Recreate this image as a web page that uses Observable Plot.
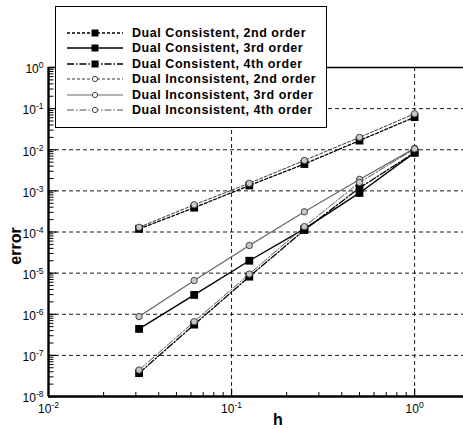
<!DOCTYPE html>
<html><head><meta charset="utf-8">
<script src="https://cdn.jsdelivr.net/npm/d3@7"></script>
<script src="https://cdn.jsdelivr.net/npm/@observablehq/plot@0.6"></script>
<style>
body{margin:0;background:#fff;font-family:"Liberation Sans",Arial,sans-serif;}
#wrap{position:relative;width:463px;height:429px;overflow:hidden;}
#legend{position:absolute;left:55px;top:6px;width:270px;height:120px;border:1.5px solid #000;background:#fff;box-sizing:content-box;}
.row{position:absolute;left:0;height:14px;display:flex;align-items:center;white-space:nowrap;}
.row svg{margin-left:11px;}
.row span{margin-left:9px;font-weight:bold;font-size:12.5px;letter-spacing:0.55px;color:#000;}
</style></head>
<body><div id="wrap"><div id="legend"></div></div>
<script>
const h = [1/32, 1/16, 1/8, 1/4, 1/2, 1];
const dc2 = [1.19e-4, 3.9e-4, 1.35e-3, 4.5e-3, 1.67e-2, 6.2e-2];
const dc3 = [4.4e-7, 2.95e-6, 2.0e-5, 1.19e-4, 8.9e-4, 8.5e-3];
const dc4 = [3.7e-8, 5.6e-7, 8.2e-6, 1.12e-4, 1.18e-3, 8.5e-3];
const di2 = [1.3e-4, 4.6e-4, 1.53e-3, 5.5e-3, 2.0e-2, 7.5e-2];
const di3 = [8.8e-7, 6.6e-6, 4.7e-5, 3.1e-4, 1.9e-3, 1.08e-2];
const di4 = [4.4e-8, 6.6e-7, 9.5e-6, 1.35e-4, 1.6e-3, 1.05e-2];
const names = ["Dual Consistent, 2nd order","Dual Consistent, 3rd order","Dual Consistent, 4th order",
               "Dual Inconsistent, 2nd order","Dual Inconsistent, 3rd order","Dual Inconsistent, 4th order"];
const yDecades = [1e-8,1e-7,1e-6,1e-5,1e-4,1e-3,1e-2,1e-1,1e0];
const xDecades = [1e-2,1e-1,1e0];

const styles = [
  {stroke:"#000", dash:"3,2", w:1.3, marker:"square"},
  {stroke:"#000", dash:null, w:1.4, marker:"square"},
  {stroke:"#000", dash:"7,2,1.5,2", w:1.3, marker:"square"},
  {stroke:"#333", dash:"3,2", w:1, marker:"circle"},
  {stroke:"#666", dash:null, w:1.2, marker:"circle"},
  {stroke:"#555", dash:"7,2,1.5,2", w:1, marker:"circle"}
];
const seriesVals = [dc2, dc3, dc4, di2, di3, di4];
const series = seriesVals.map((vals, i) => vals.map((v, j) => ({h: h[j], e: v, s: names[i]})));

const yMinor = [];
for (let e = -8; e < 0; e++) for (let k = 2; k <= 9; k++) yMinor.push(k * Math.pow(10, e));
const xMinor = [];
for (let e = -2; e < 1; e++) for (let k = 2; k <= 9; k++) { const v = k * Math.pow(10, e); if (v < 1.85) xMinor.push(v); }

const hLine = L => ({draw(ctx){ ctx.moveTo(0,0); ctx.lineTo(L,0); }});
const vLine = L => ({draw(ctx){ ctx.moveTo(0,0); ctx.lineTo(0,-L); }});

const marks = [
  Plot.ruleY(yDecades.slice(0,8), {stroke:"#000", strokeWidth:0.9, strokeDasharray:"4,3"}),
  Plot.ruleX([1e-1, 1e0], {stroke:"#000", strokeWidth:0.9, strokeDasharray:"4,3"}),
  Plot.ruleY([1e0], {stroke:"#000", strokeWidth:1.6}),
  Plot.ruleX([1e-2], {stroke:"#000", strokeWidth:2.4}),
  Plot.ruleY([1e-8], {stroke:"#000", strokeWidth:2.4}),
  Plot.dot(yMinor, {x: () => 1e-2, y: d => d, symbol: hLine(5), stroke:"#000", strokeWidth:1}),
  Plot.dot(yDecades, {x: () => 1e-2, y: d => d, symbol: hLine(8), stroke:"#000", strokeWidth:1.2}),
  Plot.dot(xMinor, {x: d => d, y: () => 1e-8, symbol: vLine(4.5), stroke:"#000", strokeWidth:1}),
  Plot.dot(xDecades, {x: d => d, y: () => 1e-8, symbol: vLine(8), stroke:"#000", strokeWidth:1.2}),
];
series.forEach((data, i) => {
  const st = styles[i];
  marks.push(Plot.line(data, {x:"h", y:"e", stroke: st.stroke, strokeWidth: st.w, strokeDasharray: st.dash || undefined}));
});
series.forEach((data, i) => {
  const st = styles[i];
  if (st.marker === "square")
    marks.push(Plot.dot(data, {x:"h", y:"e", symbol:"square", r:4.4, fill:"#000", stroke:"none"}));
  else
    marks.push(Plot.dot(data, {x:"h", y:"e", symbol:"circle", r:3.2, fill:"#c8c8c8", stroke:"#333", strokeWidth:0.9}));
});
marks.push(
  Plot.axisY(yDecades, {tickSize:0, tickPadding:5, fontSize:12, fill:"#000", tickFormat: d => "10^" + Math.round(Math.log10(d)), label:null}),
  Plot.axisX(xDecades, {tickSize:0, tickPadding:8, fontSize:12, fill:"#000", tickFormat: d => "10^" + Math.round(Math.log10(d)), label:null})
);

const chart = Plot.plot({
  width: 463, height: 429,
  marginLeft: 48, marginTop: 67, marginBottom: 33, marginRight: 0,
  x: {type:"log", domain:[0.01, 1.85]},
  y: {type:"log", domain:[1e-8, 1]},
  style: {fontFamily:"Liberation Sans, Arial, sans-serif", color:"#000", background:"#fff", overflow:"visible"},
  marks
});

// superscript exponents on tick labels
d3.select(chart).selectAll('g[aria-label="y-axis tick label"] text, g[aria-label="x-axis tick label"] text').each(function(){
  const t = d3.select(this);
  const s = t.text();
  const [base, exp] = s.split("^");
  t.text(null);
  t.append("tspan").text(base);
  t.append("tspan").attr("font-size", 8.5).attr("dy", "-0.6em").text(exp);
});
d3.select(chart).selectAll('g[aria-label="y-axis tick label"] text').attr("transform", function(){
  return (this.getAttribute("transform") || "") + " translate(0,2)";
});

// axis titles
const svg = d3.select(chart);
svg.append("text").attr("x", 278).attr("y", 425).attr("text-anchor","middle")
  .attr("font-weight","bold").attr("font-size",16).attr("fill","#000").text("h");
svg.append("text").attr("transform","translate(21,246) rotate(-90)").attr("text-anchor","middle")
  .attr("font-weight","bold").attr("font-size",16).attr("fill","#000").text("error");

const wrap = document.getElementById("wrap");
wrap.insertBefore(chart, wrap.firstChild);

// legend
const legend = document.getElementById("legend");
const rowY = [25.5, 41, 56.5, 72, 87.5, 103];
names.forEach((n, i) => {
  const st = styles[i];
  const row = document.createElement("div");
  row.className = "row";
  row.style.top = (rowY[i] - 7) + "px";
  const s = d3.create("svg").attr("width", 56).attr("height", 14);
  s.append("line").attr("x1",0).attr("x2",56).attr("y1",7).attr("y2",7)
    .attr("stroke", st.stroke).attr("stroke-width", st.w).attr("stroke-dasharray", st.dash);
  if (st.marker === "square")
    s.append("rect").attr("x",24.5).attr("y",3.5).attr("width",7).attr("height",7).attr("fill","#000");
  else
    s.append("circle").attr("cx",28).attr("cy",7).attr("r",2.6).attr("fill","#fff").attr("stroke","#444").attr("stroke-width",1);
  row.appendChild(s.node());
  const sp = document.createElement("span");
  sp.textContent = n;
  row.appendChild(sp);
  legend.appendChild(row);
});
</script></body></html>
